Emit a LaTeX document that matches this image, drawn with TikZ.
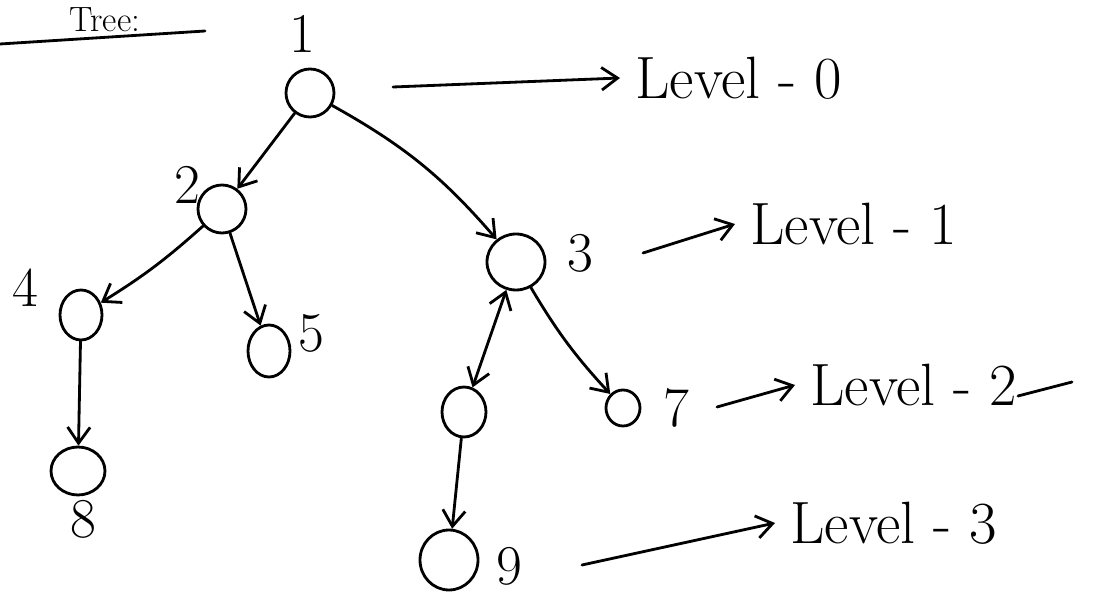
\documentclass[tikz,border=0pt]{standalone}
\usetikzlibrary{arrows.meta,shapes.geometric}
\begin{document}
\begin{tikzpicture}[x=0.02cm,y=-0.02cm,
  ink/.style={line width=1.6pt,line cap=round,line join=round},
  vert/.style={ink,draw,ellipse,inner sep=0pt},
  arr/.style={ink,-{Straight Barb[length=3.2mm,width=4.5mm]}},
  darr/.style={ink,{Straight Barb[length=3.2mm,width=4.5mm]}-{Straight Barb[length=3.2mm,width=4.5mm]}},
  lab/.style={font=\fontsize{32}{36}\selectfont,inner sep=0pt},
  lev/.style={font=\fontsize{34}{38}\selectfont,inner ysep=0pt,inner xsep=0.3cm,anchor=west}]
\useasboundingbox (0,0) rectangle (1103,594);
\fill[white] (0,0) rectangle (1103,594);
% title
\node[font=\fontsize{20}{24}\selectfont,inner sep=0pt,anchor=base] (title) at (105,32) {Tree:};
\coordinate (ulA) at (0,44);
\coordinate (ulB) at (205,31);
\draw[ink] (ulA) -- (ulB);
% vertices
\node[vert,minimum width=0.96cm,minimum height=0.96cm] (n1) at (310,93) {};
\node[vert,minimum width=0.96cm,minimum height=0.96cm] (n2) at (222,209) {};
\node[vert,minimum width=1.16cm,minimum height=1.12cm] (n3) at (516,262) {};
\node[vert,minimum width=0.84cm,minimum height=1.0cm] (n4) at (81,315) {};
\node[vert,minimum width=0.84cm,minimum height=1.04cm] (n5) at (269,351) {};
\node[vert,minimum width=0.88cm,minimum height=1.0cm] (n6) at (464,412) {};
\node[vert,minimum width=0.68cm,minimum height=0.72cm] (n7) at (623,408) {};
\node[vert,minimum width=1.08cm,minimum height=0.96cm] (n8) at (78,471) {};
\node[vert,minimum width=1.16cm,minimum height=1.2cm] (n9) at (449,560) {};
% labels
\node[lab] (t1) at (302,34) {1};
\node[lab] (t2) at (187,185) {2};
\node[lab] (t3) at (580,253) {3};
\node[lab] (t4) at (25,288) {4};
\node[lab] (t5) at (311,333) {5};
\node[lab] (t7) at (676,408) {7};
\node[lab] (t8) at (83,519) {8};
\node[lab] (t9) at (509,566) {9};
% edges
\draw[arr] (n1) -- (n2);
\draw[arr] (n1) to[bend left=10] (n3);
\draw[arr] (n2) to[bend left=5] (n4);
\draw[arr] (n2) -- (n5);
\draw[darr] (n6) -- (n3);
\draw[arr] (n3) to[bend right=6] (n7);
\draw[arr] (n4) -- (n8);
\draw[arr] (n6) -- (n9);
% levels
\node[lev] (L0) at (620,78) {Level - 0};
\node[lev] (L1) at (735,224) {Level - 1};
\node[lev] (L2) at (795,385) {Level - 2};
\node[lev] (L3) at (775,523) {Level - 3};
\coordinate (s0) at (393,87);
\coordinate (s1) at (643,253);
\coordinate (s2) at (717,407);
\coordinate (s3) at (582,565);
\coordinate (e2a) at (1018,396);
\coordinate (e2b) at (1072,382);
\draw[arr] (s0) -- (L0.west);
\draw[arr] (s1) -- (L1.west);
\draw[arr] (s2) -- (L2.west);
\draw[arr] (s3) -- (L3.west);
\draw[ink] (e2a) -- (e2b);
\end{tikzpicture}
\end{document}
